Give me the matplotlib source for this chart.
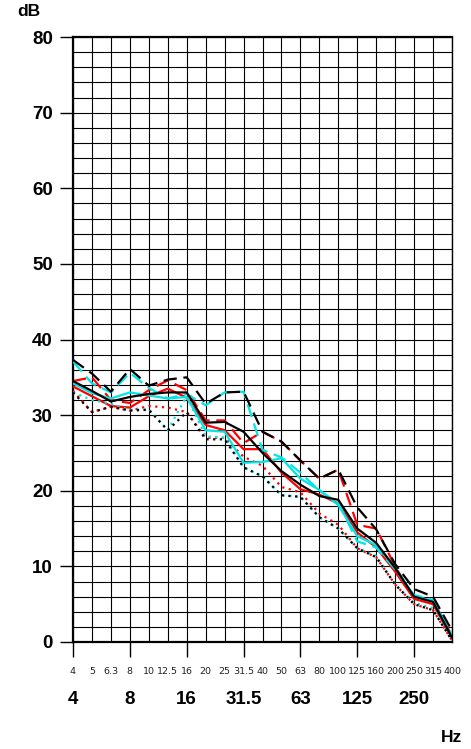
import matplotlib
matplotlib.use("Agg")
import matplotlib.pyplot as plt
import matplotlib.transforms as mtransforms
import numpy as np

# third-octave bands (Hz)
bands = ['4', '5', '6.3', '8', '10', '12.5', '16', '20', '25', '31.5', '40',
         '50', '63', '80', '100', '125', '160', '200', '250', '315', '400']
octave_labels = ['4', '8', '16', '31.5', '63', '125', '250']

# levels in dB (max / mean / min per group)
black_max = [37.3, 35.5, 33.1, 36.1, 33.9, 34.7, 35.0, 31.5, 33.0, 33.1, 27.8,
             26.5, 24.0, 21.6, 22.8, 17.8, 14.9, 10.3, 7.0, 6.0, 1.5]
black_mean = [34.5, 33.2, 31.8, 32.4, 32.8, 33.0, 33.0, 29.0, 29.1, 27.8, 25.0,
              22.6, 20.8, 19.3, 18.8, 15.0, 13.1, 9.8, 6.0, 5.3, 0.6]
black_min = [33.0, 30.4, 31.1, 30.6, 30.7, 28.0, 30.4, 26.8, 26.8, 23.1, 21.9,
             19.4, 19.2, 16.5, 15.0, 12.4, 11.2, 7.6, 5.0, 4.2, 0.2]

red_max = [34.5, 35.0, 32.0, 31.6, 33.3, 34.6, 33.3, 29.3, 29.3, 26.3, 27.8,
           26.5, 24.0, 21.6, 22.8, 15.5, 15.0, 10.0, 5.8, 5.5, 0.8]
red_mean = [33.8, 32.5, 31.2, 31.0, 32.5, 33.5, 32.3, 28.7, 28.0, 25.5, 25.5,
            22.4, 20.2, 19.5, 18.3, 14.5, 12.5, 9.3, 5.7, 5.0, 0.5]
red_min = [33.2, 30.4, 31.1, 30.6, 31.2, 31.0, 30.4, 27.0, 27.0, 24.5, 23.3,
           20.5, 19.8, 17.0, 15.5, 12.4, 11.2, 7.6, 5.0, 4.2, 0.2]

cyan_max = [37.1, 34.2, 33.0, 35.6, 33.6, 32.2, 32.8, 31.3, 33.0, 33.1, 25.4,
            24.4, 22.4, 20.0, 18.4, 13.3, 12.5, 9.6, 6.2, 5.6, 1.0]
cyan_mean = [34.2, 32.9, 32.2, 33.0, 32.6, 32.2, 32.4, 28.0, 27.8, 23.7, 23.8,
             24.3, 21.6, 20.1, 18.1, 14.0, 12.8, 9.8, 6.1, 5.4, 0.6]
cyan_min = [33.0, 32.0, 31.5, 30.7, 30.8, 28.0, 32.5, 27.2, 27.0, 23.1, 21.9,
            19.4, 19.2, 16.5, 15.0, 12.4, 11.4, 7.6, 5.2, 4.5, 0.2]

plt.rcParams['font.family'] = ['Liberation Sans', 'DejaVu Sans']

fig = plt.figure(figsize=(4.71, 7.49), dpi=100)
ax = fig.add_axes([73 / 471, 1 - 642 / 749, 379 / 471, 605 / 749])

x = np.arange(len(bands))

# grid
for i in x:
    ax.axvline(i, color='black', lw=0.8, zorder=1)
for v in range(0, 81, 2):
    ax.axhline(v, color='black', lw=0.8, zorder=1)

groups = [
    ('#ff0000', red_max, red_mean, red_min),
    ('#00e5e5', cyan_max, cyan_mean, cyan_min),
    ('black', black_max, black_mean, black_min),
]
for col, mx, mn, lo in groups:
    ax.plot(x, mx, color=col, lw=1.6, dashes=(6, 3), zorder=3)
    ax.plot(x, mn, color=col, lw=1.6, zorder=3)
    ax.plot(x, lo, color=col, lw=1.6, dashes=(1, 2), zorder=3)

ax.set_xlim(0, len(bands) - 1)
ax.set_ylim(0, 80)
for s in ['left', 'bottom', 'top']:
    ax.spines[s].set_linewidth(1.6)
ax.spines['right'].set_linewidth(1.0)

ax.set_yticks(range(0, 81, 10))
ax.set_yticklabels([str(v) for v in range(0, 81, 10)], fontsize=13.5,
                   fontweight='bold')
ax.tick_params(axis='y', length=9.5, width=1.0, pad=5)

oct_idx = [bands.index(b) for b in octave_labels]
ax.set_xticks(oct_idx)
ax.set_xticklabels([])
ax.tick_params(axis='x', length=11, width=1.0)

trans = mtransforms.blended_transform_factory(ax.transData, ax.transAxes)
for i, b in enumerate(bands):
    ax.text(i, -30 / 605, b, transform=trans, ha='center', va='center',
            fontsize=6.8, color='#222222',
            family=['Liberation Sans Narrow', 'DejaVu Sans'])
for i, b in zip(oct_idx, octave_labels):
    ax.text(i, -57 / 605, b, transform=trans, ha='center', va='center',
            fontsize=13.5, fontweight='bold')

fig.text(29 / 471, 1 - 11 / 749, 'dB', ha='center', va='center',
         fontsize=12.5, fontweight='bold')
fig.text(451 / 471, 1 - 737 / 749, 'Hz', ha='center', va='center',
         fontsize=12.5, fontweight='bold')

fig.savefig('out.png', dpi=100)
